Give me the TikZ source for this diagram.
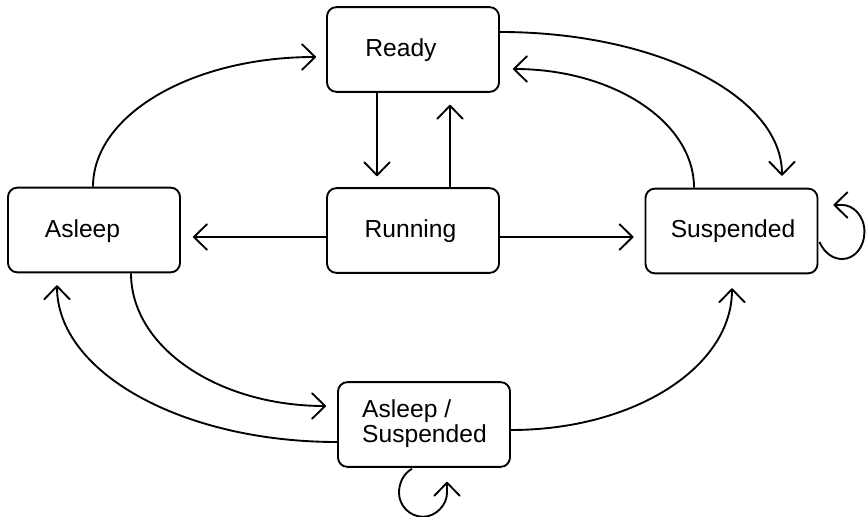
\documentclass[tikz,border=0pt]{standalone}
\usepackage{fontspec}
\setmainfont{Liberation Sans}
\usetikzlibrary{arrows.meta,calc}

\begin{document}
\begin{tikzpicture}[x=0.03cm,y=-0.03cm,
  state/.style={draw, line width=1.6pt, rounded corners=0.28cm,
    minimum width=5.16cm, minimum height=2.54cm, inner sep=0pt},
  lbl/.style={inner sep=0pt, font=\fontsize{21pt}{25pt}\selectfont},
  trans/.style={line width=1.6pt,
    -{Straight Barb[length=0.39cm, width=0.76cm, line width=1.6pt, round]}}]

\fill[white] (0,0) rectangle (868,517);
\useasboundingbox (0,0) rectangle (868,517);

% process states
\node[state] (ready)   at (413,49.5)  {};
\node[state] (running) at (413,230.5) {};
\node[state] (asleep)  at (94,230)    {};
\node[state] (susp)    at (731.5,231) {};
\node[state] (aslsusp) at (424,424.5) {};

% state names
\node[lbl, anchor=base] (ready-t)   at (401,57)    {Ready};
\node[lbl, anchor=base] (running-t) at (410.5,237.5) {Running};
\node[lbl, anchor=base] (asleep-t)  at (82.5,238)  {Asleep};
\node[lbl, anchor=base] (susp-t)    at (733,238)   {Suspended};
\node[lbl, anchor=base west] (aslsusp-t1) at (362,417) {Asleep /};
\node[lbl, anchor=base west] (aslsusp-t2) at (362,442) {Suspended};

% straight transitions
\draw[trans] ($(ready.south)+(-36,0)$) -- ($(running.north)+(-36,-11)$);
\draw[trans] ($(running.north)+(37,0)$) -- ($(ready.south)+(37,12)$);
\draw[trans] ($(running.west)+(0,6.5)$) -- ($(asleep.east)+(12,7)$);
\draw[trans] ($(running.east)+(0,6.5)$) -- ($(susp.west)+(-11,6)$);

% curved transitions
\draw[trans] ($(asleep.north)+(-1,0)$) .. controls +(0,-72) and +(-124,0) .. ($(ready.west)+(-10,7.5)$);
\draw[trans] ($(ready.east)+(0,-17.5)$) .. controls +(156,0) and +(0,-80) .. ($(susp.north)+(50.5,-12)$);
\draw[trans] ($(susp.north)+(-37.5,0)$) .. controls +(0,-66) and +(100,0) .. ($(ready.east)+(13,19.5)$);
\draw[trans] ($(asleep.south)+(37,0)$) .. controls +(0,74) and +(-108,0) .. ($(aslsusp.west)+(-11,-18.5)$);
\draw[trans] ($(aslsusp.west)+(0,17.5)$) .. controls +(-155,0) and +(0,87) .. ($(asleep.south)+(-37,12)$);
\draw[trans] ($(aslsusp.east)+(0,5.5)$) .. controls +(123,0) and +(0,79) .. ($(susp.south)+(0.5,14)$);

% self loops
\draw[trans] ($(susp.east)+(1,11)$) .. controls +(6,13) and +(-8,0) .. ++(23,17)
  .. controls +(12,0) and +(0,15) .. ++(22,-27)
  .. controls +(0,-17) and +(10,0) .. ++(-22,-27) -- ++(-9,0);
\draw[trans] ($(aslsusp.south)+(-12,1)$) .. controls +(-9,5) and +(0,-9) .. ++(-13,24)
  .. controls +(0,13) and +(-13,0) .. ++(24,24)
  .. controls +(13,0) and +(0,12) .. ++(24,-24) -- ++(0,-11);

\end{tikzpicture}
\end{document}
